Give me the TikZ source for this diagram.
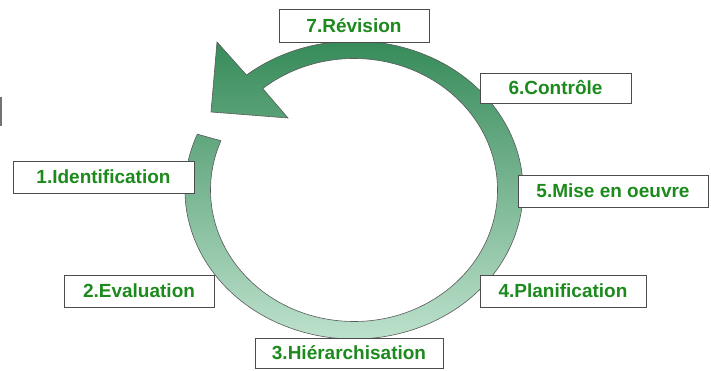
\documentclass[tikz,border=0pt]{standalone}
\usepackage{fontspec}
\setmainfont{Liberation Sans}
\definecolor{ringdark}{RGB}{50,136,86}
\definecolor{ringlight}{RGB}{198,231,212}
\definecolor{steptext}{RGB}{28,138,28}
\tikzset{
  stepbox/.style={draw=black!70, line width=0.8pt, fill=white, text=steptext,
    font=\fontsize{19}{22}\selectfont\bfseries, inner sep=0pt, minimum height=32pt},
}
\begin{document}
\begin{tikzpicture}[x=1pt, y=1pt]
    \useasboundingbox (0,0) rectangle (711,370);
    \coordinate (c) at (354,180);

    % Cycle arrow
    \shadedraw[top color=ringdark, bottom color=ringlight, draw=black!65, line width=0.6pt]
      ([shift={(158:169 and 149)}]c) arc[start angle=158, end angle=489.5, x radius=169, y radius=149]
      -- (217,328) -- (211,258) -- (288,252)
      -- ([shift={(489.5:143.5 and 131.5)}]c) arc[start angle=489.5, end angle=158, x radius=143.5, y radius=131.5]
      -- cycle;

    % Mark on the left edge
    \draw[black!55, line width=1.5pt] (1,244) -- (1,273);

    % Steps
    \node[stepbox, minimum width=181pt] (ident) at (103.5,193) {1.Identification};
    \node[stepbox, minimum width=150pt] (eval) at (139,79) {2.Evaluation};
    \node[stepbox, minimum width=188pt, minimum height=30pt] (hier) at (349,17) {3.Hiérarchisation};
    \node[stepbox, minimum width=166pt] (plan) at (563,79) {4.Planification};
    \node[stepbox, minimum width=190pt] (mise) at (613,179) {5.Mise en oeuvre};
    \node[stepbox, minimum width=151pt, minimum height=30pt] (ctrl) at (555.5,282) {6.Contrôle};
    \node[stepbox, minimum width=150pt, minimum height=33pt] (rev) at (354,344.5) {7.Révision};
\end{tikzpicture}
\end{document}
